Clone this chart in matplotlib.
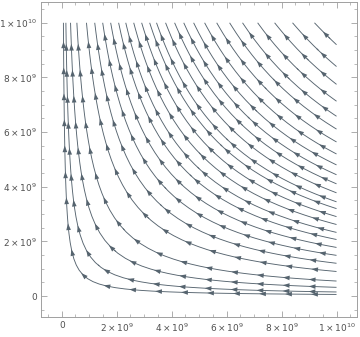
import numpy as np
import matplotlib
matplotlib.use('Agg')
import matplotlib.pyplot as plt
from matplotlib.patches import FancyArrowPatch

# 스트림라인 상수: 각 곡선이 위쪽 가장자리(y=1e10)에 닿는 x 위치 (단위 1e9)
top_x = [0.06, 0.15, 0.32, 0.55, 0.9, 1.2, 1.49, 1.78, 2.07, 2.33, 2.62, 2.91,
         3.2, 3.45, 3.78, 4.11, 4.44, 4.8, 5.2, 5.64, 6.11, 6.58, 7.13, 7.75,
         8.4, 9.2]

major_ticks = [0, 2e9, 4e9, 6e9, 8e9, 1e10]
tick_labels = ['0', r'$2\times10^{9}$', r'$4\times10^{9}$', r'$6\times10^{9}$',
               r'$8\times10^{9}$', r'$1\times10^{10}$']

line_color = '#56646f'
frame_color = '#a0a0a0'
label_color = '#505050'

# 벡터장 (x' = -x, y' = y)
xs = np.linspace(0, 1e10, 80)
ys = np.linspace(0, 1e10, 80)
X, Y = np.meshgrid(xs, ys)
U = -X
V = Y

fig = plt.figure(figsize=(3.6, 3.37), dpi=100)
ax = fig.add_axes([0.114, 0.059, 0.878, 0.935])
ax.set_xlim(-0.754e9, 10.75e9)
ax.set_ylim(-0.77e9, 10.76e9)

arrow_gap = 26  # 화살표 간격 (픽셀)

for tx in top_x:
    c = tx * 1e9 * 1e10
    s = np.sqrt(c)
    sp = ax.streamplot(X, Y, U, V, start_points=[[s, s]], broken_streamlines=False,
                       color=line_color, linewidth=0.65, arrowstyle='-',
                       integration_direction='both')
    segs = sp.lines.get_segments()
    pts = np.concatenate(segs)
    pix = ax.transData.transform(pts)
    d = np.concatenate([[0], np.cumsum(np.hypot(*np.diff(pix, axis=0).T))])
    n = int(d[-1] // arrow_gap)
    if n < 1:
        continue
    offs = (d[-1] - n * arrow_gap) / 2 + arrow_gap / 2
    for k in range(n):
        t = offs + k * arrow_gap
        if t > d[-1]:
            break
        px = np.interp(t, d, pix[:, 0])
        py = np.interp(t, d, pix[:, 1])
        x0, y0 = ax.transData.inverted().transform((px, py))
        # 흐름 방향
        vx, vy = -x0, y0
        norm = np.hypot(vx, vy)
        vx, vy = vx / norm * 0.12e9, vy / norm * 0.12e9
        ar = FancyArrowPatch((x0 - vx, y0 - vy), (x0 + vx, y0 + vy),
                             arrowstyle='-|>,head_length=0.4,head_width=0.14',
                             mutation_scale=12,
                             color=line_color, linewidth=0, shrinkA=0, shrinkB=0)
        ax.add_patch(ar)

ax.set_xticks(major_ticks)
ax.set_xticklabels(tick_labels)
ax.set_yticks(major_ticks)
ax.set_yticklabels(tick_labels)
ax.set_xticks(np.arange(-0.5e9, 10.6e9, 0.5e9), minor=True)
ax.set_yticks(np.arange(-0.5e9, 10.6e9, 0.5e9), minor=True)

ax.tick_params(which='both', direction='in', top=True, right=True,
               color=frame_color, labelcolor=label_color, labelsize=6.5, pad=3)
ax.tick_params(which='major', length=4, width=0.6)
ax.tick_params(which='minor', length=2, width=0.5)
for sp_ in ax.spines.values():
    sp_.set_color(frame_color)
    sp_.set_linewidth(0.7)

fig.savefig('out.png', dpi=100)
